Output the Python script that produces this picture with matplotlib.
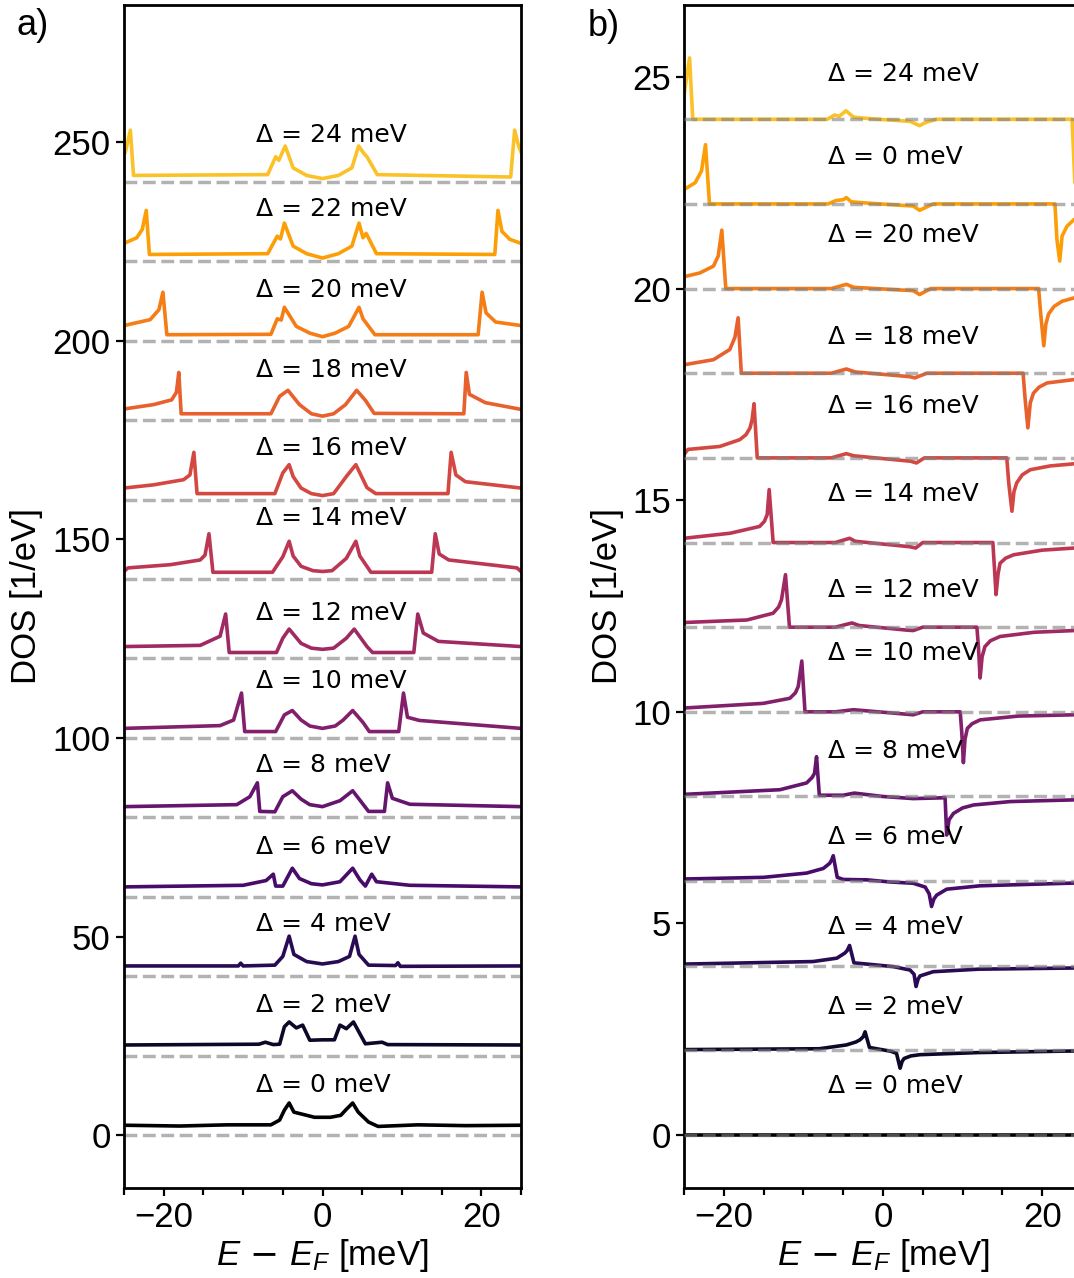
import numpy as np
import matplotlib
matplotlib.use("Agg")
import matplotlib.pyplot as plt
from matplotlib.ticker import MultipleLocator

plt.rcParams['font.family'] = 'Liberation Sans'
plt.rcParams['mathtext.fontset'] = 'custom'
plt.rcParams['mathtext.rm'] = 'DejaVu Sans'
plt.rcParams['mathtext.it'] = 'Liberation Sans:italic'
plt.rcParams['mathtext.sf'] = 'Liberation Sans'

gaps = [0, 2, 4, 6, 8, 10, 12, 14, 16, 18, 20, 22, 24]

# ---- panel a: (E - E_F [meV], DOS above the curve's own baseline)
a_d0 = [(-25, 2.5), (-18, 2.3), (-12, 2.6), (-6.5, 2.6), (-5.4, 3.8), (-4.8, 6.3), (-4.2, 8.1), (-3.6, 5.8),
        (-2.0, 5.0), (-1.0, 4.5), (1.0, 4.5), (2.3, 5.0), (3.0, 6.5), (3.8, 8.1), (4.5, 5.8), (5.8, 3.3),
        (7.0, 2.2), (12, 2.6), (18, 2.4), (25, 2.5)]
a_d2 = [(-25, 2.7), (-8, 2.9), (-7.2, 3.4), (-6.2, 2.8), (-5.4, 2.9), (-4.8, 7.3), (-4.2, 8.5),
        (-3.3, 7.0), (-2.5, 7.7), (-1.6, 3.9), (0, 4.0), (1.5, 4.0), (2.2, 7.7), (3.0, 6.8),
        (3.9, 8.5), (5.4, 3.0), (7.5, 3.4), (8.2, 2.8), (25, 2.7)]
a_d4 = [(-25, 2.6), (-10.6, 2.6), (-10.3, 3.3), (-10.0, 2.6), (-6.0, 2.8), (-5.0, 5.0), (-4.2, 10.1),
        (-3.6, 5.5), (-2.0, 3.7), (0, 3.1), (2.0, 3.7), (3.4, 5.0), (4.1, 10.1), (4.6, 5.5), (5.8, 2.8),
        (9.2, 2.7), (9.5, 3.4), (9.8, 2.5), (25, 2.6)]
a_d6 = [(-25, 2.5), (-10, 2.9), (-7.1, 4.1), (-6.2, 5.7), (-5.9, 2.7), (-5.0, 2.7), (-3.8, 7.2),
        (-2.9, 4.6), (-1.4, 3.3), (0, 3.0), (2.2, 3.8), (3.8, 7.2), (4.7, 4.3), (5.4, 2.7),
        (6.2, 5.7), (6.8, 3.8), (11, 2.9), (25, 2.5)]
a_d8 = [(-25, 2.7), (-10.8, 3.2), (-9.15, 5.2), (-8.2, 8.7), (-7.9, 1.5), (-6.0, 1.4), (-5.0, 5.2),
        (-3.8, 6.7), (-2.7, 4.6), (-1.6, 3.2), (0, 2.7), (2.2, 4.2), (3.8, 6.7), (5.8, 1.5),
        (7.8, 1.5), (8.2, 8.7), (8.8, 4.8), (11.0, 3.3), (25, 2.7)]
a_d10 = [(-25, 2.4), (-12.9, 3.1), (-11.2, 4.5), (-10.2, 11.3), (-9.8, 1.6), (-5.9, 1.6), (-4.8, 5.8),
         (-3.8, 6.9), (-2.7, 4.5), (-1.6, 3.0), (0, 2.4), (1.6, 3.0), (2.6, 4.5), (3.8, 6.9),
         (5.1, 3.9), (5.9, 1.6), (9.6, 1.6), (10.2, 11.3), (10.7, 5.2), (12.2, 4.4), (25, 2.4)]
a_d12 = [(-25, 3.0), (-15.4, 3.3), (-12.9, 5.6), (-12.2, 11.2), (-11.75, 1.5), (-5.8, 1.5), (-5.0, 5.1),
         (-4.2, 7.4), (-2.7, 3.8), (-1.4, 2.6), (0, 2.3), (1.4, 2.6), (3.0, 5.1), (4.0, 7.4),
         (5.6, 3.0), (6.3, 1.5), (11.5, 1.5), (12.0, 11.2), (12.7, 6.4), (14.6, 4.3), (25, 3.0)]
a_d14 = [(-25, 1.9), (-24.5, 2.8), (-19.2, 3.6), (-15.4, 4.8), (-14.8, 6.0), (-14.3, 11.4), (-13.8, 1.7),
         (-6.3, 1.7), (-5.0, 5.6), (-4.2, 9.5), (-3.7, 5.8), (-2.7, 3.2), (-1.2, 2.1), (0, 1.9),
         (1.2, 2.1), (3.0, 5.2), (4.2, 9.5), (4.7, 5.8), (6.1, 1.7), (13.75, 1.7), (14.2, 11.4),
         (14.7, 6.3), (15.9, 4.8), (24.5, 2.8), (25, 1.9)]
a_d16 = [(-25, 2.9), (-21.3, 3.7), (-17.5, 5.0), (-16.7, 6.2), (-16.2, 11.9), (-15.8, 1.5), (-6.0, 1.5),
         (-5.0, 6.7), (-4.2, 8.8), (-3.7, 5.8), (-2.7, 2.9), (-1.4, 1.5), (0, 1.0), (1.4, 1.5),
         (3.0, 5.8), (4.2, 8.8), (5.6, 3.0), (6.7, 1.5), (15.8, 1.5), (16.2, 11.9), (16.8, 6.2),
         (18.0, 4.5), (25, 2.9)]
a_d18 = [(-25, 2.8), (-21.3, 3.9), (-19.0, 5.1), (-18.4, 7.0), (-18.1, 12.0), (-17.8, 1.6), (-6.5, 1.6),
         (-5.4, 6.0), (-4.35, 7.5), (-2.9, 3.9), (-1.4, 1.6), (0, 1.0), (1.4, 1.6), (2.9, 3.9),
         (4.3, 7.5), (5.4, 5.0), (6.5, 1.7), (17.8, 1.6), (18.1, 12.0), (18.5, 6.5), (20.5, 4.4),
         (25, 2.7)]
a_d20 = [(-25, 3.8), (-21.7, 5.3), (-20.6, 7.8), (-20.1, 12.2), (-19.6, 1.5), (-6.5, 1.6), (-5.7, 5.5),
         (-5.2, 5.2), (-4.8, 8.4), (-3.3, 3.6), (-1.6, 1.9), (0, 1.0), (1.6, 1.9), (3.3, 3.6),
         (4.6, 8.4), (5.1, 5.5), (6.3, 2.3), (6.6, 1.5), (19.6, 1.5), (20.1, 12.2), (20.6, 7.0),
         (21.8, 4.7), (25, 3.8)]
a_d22 = [(-25, 4.5), (-23.4, 5.9), (-22.7, 8.0), (-22.2, 12.8), (-21.8, 1.7), (-6.9, 1.9), (-5.7, 6.3),
         (-5.3, 5.6), (-4.8, 9.6), (-3.7, 3.8), (-2.0, 1.9), (0, 0.8), (2.0, 1.9), (3.7, 3.8),
         (4.6, 9.6), (5.1, 5.9), (5.5, 7.0), (6.8, 1.9), (21.7, 1.7), (22.1, 12.8), (22.6, 7.5),
         (23.6, 5.5), (25, 4.5)]
a_d24 = [(-25, 6.8), (-24.8, 7.7), (-24.2, 13.0), (-23.8, 1.6), (-6.9, 1.8), (-5.9, 6.3), (-5.5, 5.4),
         (-4.7, 9.0), (-3.7, 3.5), (-2.0, 1.6), (0, 0.8), (2.0, 1.6), (3.7, 3.5), (4.55, 9.0),
         (5.3, 6.9), (5.6, 6.3), (6.9, 1.8), (23.7, 1.2), (24.2, 13.0), (24.7, 9.0), (25, 7.5)]
a_curves = [a_d0, a_d2, a_d4, a_d6, a_d8, a_d10, a_d12, a_d14, a_d16, a_d18, a_d20, a_d22, a_d24]
a_step = 20
a_label_gap = gaps
a_label_y = [10.8, 30.9, 51.5, 70.8, 91.4, 112.6, 129.6, 153.5, 171.3, 190.9, 211.0, 231.4, 250.0]

# ---- panel b
b_d0 = [(-25, 0.0), (25, 0.0)]
b_d2 = [(-25, 0.02), (-8, 0.04), (-4.6, 0.13), (-3.4, 0.2), (-2.9, 0.25), (-2.5, 0.32), (-2.25, 0.44),
        (-1.7, 0.07), (-0.5, 0.03), (1.0, -0.02), (1.7, -0.07), (2.15, -0.42), (2.4, -0.26), (2.65, -0.19),
        (3.5, -0.13), (4.65, -0.1), (12, -0.05), (25, -0.01)]
b_d4 = [(-25, 0.04), (-8.8, 0.1), (-5.8, 0.18), (-4.8, 0.3), (-4.5, 0.36), (-4.2, 0.48), (-3.65, 0.07),
        (-2.0, 0.04), (1.3, -0.02), (3.4, -0.1), (3.9, -0.2), (4.15, -0.49), (4.4, -0.32), (4.65, -0.24),
        (6.3, -0.14), (12, -0.08), (25, -0.05)]
b_d6 = [(-25, 0.05), (-15, 0.09), (-9.6, 0.19), (-7.5, 0.3), (-6.7, 0.42), (-6.45, 0.5), (-6.25, 0.6),
        (-5.75, 0.09), (-5.0, 0.04), (-2.0, 0.03), (0.9, -0.02), (3.8, -0.05), (5.3, -0.14), (5.8, -0.3),
        (6.1, -0.6), (6.4, -0.42), (6.75, -0.33), (8.0, -0.19), (12.2, -0.11), (25, -0.04)]
b_d8 = [(-25, 0.05), (-12.95, 0.16), (-9.6, 0.32), (-8.9, 0.45), (-8.6, 0.55), (-8.35, 0.94), (-8.0, 0.03),
        (-5, 0.03), (-3.6, 0.08), (0, 0.0), (3.8, -0.05), (7.8, -0.03), (8.0, -0.91), (8.3, -0.55),
        (8.85, -0.4), (10.0, -0.27), (11.4, -0.2), (16, -0.12), (24, -0.08), (25, -0.08)]
b_d10 = [(-25, 0.09), (-15.05, 0.2), (-11.7, 0.32), (-11.0, 0.45), (-10.65, 0.6), (-10.2, 1.2), (-9.8, 0.0),
         (-6, 0.0), (-3.7, 0.05), (3.8, -0.07), (5.0, 0.0), (9.7, 0.0), (9.9, -0.5), (10.1, -1.2),
         (10.3, -0.65), (10.6, -0.39), (11.2, -0.28), (12.2, -0.19), (17, -0.1), (24, -0.07), (25, -0.07)]
b_d12 = [(-25, 0.11), (-17.1, 0.17), (-13.8, 0.33), (-13.1, 0.48), (-12.75, 0.65), (-12.25, 1.24),
         (-11.75, 0.0), (-6, 0.0), (-3.9, 0.1), (-3, 0.04), (3.0, -0.07), (3.8, -0.08), (5.0, 0.0),
         (11.8, 0.0), (12.0, -0.5), (12.2, -1.2), (12.45, -0.7), (12.8, -0.46), (13.5, -0.32),
         (14.7, -0.22), (19, -0.12), (24, -0.08), (25, -0.08)]
b_d14 = [(-25, 0.1), (-19.2, 0.22), (-15.5, 0.38), (-14.9, 0.5), (-14.55, 0.66), (-14.3, 1.25), (-13.8, 0.0),
         (-6, 0.0), (-4.2, 0.1), (-3.5, 0.03), (3.4, -0.1), (4.1, -0.13), (5.0, 0.0), (13.8, 0.0),
         (14.0, -0.6), (14.2, -1.23), (14.45, -0.75), (14.7, -0.49), (15.4, -0.37), (16.4, -0.29),
         (20, -0.18), (24, -0.13), (25, -0.12)]
b_d16 = [(-25, 0.08), (-24.5, 0.2), (-20.5, 0.27), (-18.0, 0.43), (-17.2, 0.55), (-16.7, 0.71),
         (-16.45, 0.9), (-16.2, 1.28), (-15.8, 0.0), (-6.5, 0.0), (-4.6, 0.1), (-3.7, 0.05), (3.5, -0.08),
         (4.2, -0.12), (5.2, 0.0), (15.55, 0.0), (15.8, -0.6), (16.2, -1.26), (16.45, -0.8), (16.8, -0.59),
         (17.5, -0.4), (18.5, -0.28), (21, -0.19), (24, -0.14), (25, -0.13)]
b_d18 = [(-25, 0.2), (-21.3, 0.32), (-19.25, 0.56), (-18.6, 0.85), (-18.2, 1.31), (-17.8, 0.0), (-6.5, 0.0),
         (-4.6, 0.1), (-3.5, 0.03), (3.3, -0.08), (4.0, -0.11), (5.5, 0.0), (17.6, 0.0), (17.85, -0.6),
         (18.2, -1.29), (18.5, -0.7), (18.9, -0.47), (19.6, -0.33), (20.6, -0.23), (24, -0.15), (25, -0.14)]
b_d20 = [(-25, 0.28), (-23.0, 0.37), (-21.3, 0.53), (-20.7, 0.77), (-20.25, 1.38), (-19.75, 0.0), (-6.5, 0.0),
         (-4.6, 0.1), (-3.7, 0.03), (3.8, -0.05), (4.6, -0.14), (6.0, 0.0), (19.55, 0.0), (19.8, -0.57),
         (20.2, -1.35), (20.45, -0.85), (20.8, -0.6), (21.5, -0.42), (22.5, -0.3), (24, -0.22), (25, -0.2)]
b_d22 = [(-25, 0.34), (-23.6, 0.5), (-22.8, 0.78), (-22.3, 1.4), (-21.8, 0.0), (-6.9, 0.0), (-5.9, 0.08),
         (-5.0, 0.1), (-4.6, 0.15), (-4.0, 0.05), (-2, 0.02), (3.8, -0.05), (4.6, -0.15), (6.3, 0.0),
         (21.6, 0.0), (21.85, -0.84), (22.2, -1.35), (22.5, -0.76), (23.1, -0.53), (24.0, -0.37), (25, -0.3)]
b_d24 = [(-25, 0.5), (-24.9, 0.7), (-24.3, 1.45), (-23.9, 0.0), (-7, 0.0), (-6.1, 0.1), (-5.5, 0.07),
         (-4.65, 0.2), (-3.7, 0.05), (-2, 0.02), (3.4, -0.05), (4.6, -0.15), (5.3, -0.08), (6.7, 0.0),
         (23.75, 0.0), (24.1, -1.5), (24.5, -0.8), (25, -0.55)]
b_curves = [b_d0, b_d2, b_d4, b_d6, b_d8, b_d10, b_d12, b_d14, b_d16, b_d18, b_d20, b_d22, b_d24]
b_step = 2
# labels as they appear in the figure (second from top reads 0 meV)
b_label_gap = [0, 2, 4, 6, 8, 10, 12, 14, 16, 18, 20, 0, 24]
b_label_y = [1.00, 2.86, 4.75, 6.87, 8.92, 11.22, 12.72, 14.99, 17.07, 18.69, 21.09, 22.95, 24.91]

W, H = 1074, 1278
fig = plt.figure(figsize=(W / 100, H / 100), dpi=100)

ax_a = fig.add_axes([124 / W, 90 / H, 397 / W, 1183 / H])
ax_b = fig.add_axes([684 / W, 90 / H, 398 / W, 1183 / H])

colors = [plt.cm.inferno(i / 14) for i in range(len(gaps))]


def draw(ax, curves, step, label_gap, label_y, label_x, dash_on_top):
    for i, c in enumerate(curves):
        e = np.array([p[0] for p in c])
        d = np.array([p[1] for p in c]) + step * i
        ax.plot(e, d, color=colors[i], lw=2.6, zorder=2)
        ax.axhline(step * i, ls='--', color='grey', alpha=0.6, lw=2.5,
                   zorder=3 if dash_on_top else 1)
        ax.text(label_x, label_y[i], 'Δ = %d meV' % label_gap[i], family='DejaVu Sans',
                fontsize=18, ha='left', va='baseline', zorder=4)
    ax.set_xlim(-25, 25)
    ax.xaxis.set_major_locator(MultipleLocator(20))
    ax.xaxis.set_minor_locator(MultipleLocator(5))
    ax.tick_params(which='both', labelsize=25, width=1.6)
    ax.tick_params(which='major', length=6)
    ax.tick_params(which='minor', length=5)
    for s in ax.spines.values():
        s.set_linewidth(2)
    ax.set_xlabel(r'$E\,-\,E_F$ [meV]', fontsize=25)
    ax.set_ylabel('DOS [1/eV]', fontsize=25)


draw(ax_a, a_curves, a_step, a_label_gap, a_label_y, -8.4, False)
ax_a.set_ylim(-13.3, 284.5)
ax_a.yaxis.set_major_locator(MultipleLocator(50))
ax_a.yaxis.set_label_coords(-0.204, 0.5)
ax_a.xaxis.set_label_coords(0.5, -0.041)

draw(ax_b, b_curves, b_step, b_label_gap, b_label_y, -6.95, True)
ax_b.set_ylim(-1.25, 26.7)
ax_b.yaxis.set_major_locator(MultipleLocator(5))
ax_b.yaxis.set_label_coords(-0.152, 0.5)
ax_b.xaxis.set_label_coords(0.5, -0.041)

fig.text(17 / W, 1 - 35 / H, 'a)', fontsize=26, va='baseline')
fig.text(588 / W, 1 - 36 / H, 'b)', fontsize=26, va='baseline')

fig.savefig('out.png', dpi=100)
